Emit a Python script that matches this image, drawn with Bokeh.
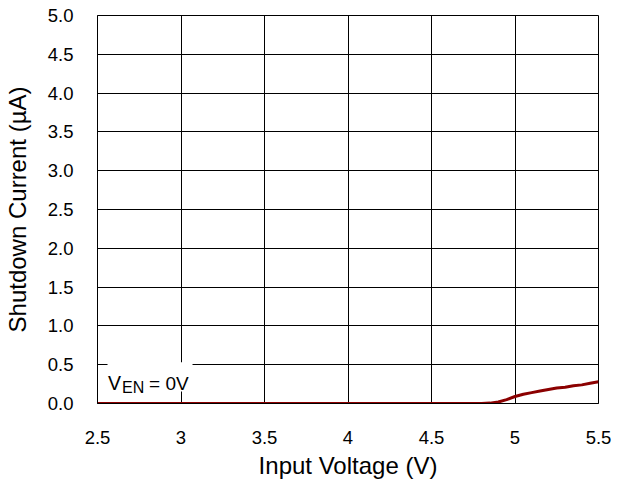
from bokeh.plotting import figure
from bokeh.models import Range1d, FixedTicker, Label, BoxAnnotation, CustomJSTickFormatter
from bokeh.embed import file_html
from bokeh.resources import INLINE

# Data
input_voltage = [2.5, 2.6, 2.7, 2.8, 2.9, 3.0, 3.1, 3.2, 3.3, 3.4, 3.5, 3.6, 3.7, 3.8, 3.9,
                 4.0, 4.1, 4.2, 4.3, 4.4, 4.5, 4.6, 4.7, 4.8, 4.85, 4.9, 4.95, 5.0, 5.05,
                 5.1, 5.15, 5.2, 5.25, 5.3, 5.35, 5.4, 5.45, 5.5]
shutdown_current = [0.0, 0.0, 0.0, 0.0, 0.0, 0.0, 0.0, 0.0, 0.0, 0.0, 0.0, 0.0, 0.0, 0.0, 0.0,
                    0.0, 0.0, 0.0, 0.0, 0.0, 0.0, 0.0, 0.0, 0.0, 0.005, 0.02, 0.05, 0.09, 0.12,
                    0.14, 0.16, 0.18, 0.2, 0.21, 0.23, 0.24, 0.26, 0.28]
x_ticks = [2.5, 3, 3.5, 4, 4.5, 5, 5.5]
y_ticks = [0.0, 0.5, 1.0, 1.5, 2.0, 2.5, 3.0, 3.5, 4.0, 4.5, 5.0]
x_title = "Input Voltage (V)"
y_title = "Shutdown Current (µA)"

FONT = "Liberation Sans"

p = figure(width=619, height=483, output_backend="svg", toolbar_location=None,
           x_range=Range1d(2.5, 5.5), y_range=Range1d(0, 5.0),
           min_border_left=97, min_border_right=21, min_border_top=15, min_border_bottom=80)

p.line(input_voltage, shutdown_current, line_color="#8B0000", line_width=3)

p.outline_line_color = "black"
p.outline_line_width = 1

for ax in (p.xaxis, p.yaxis):
    ax.axis_line_color = "black"
    ax.major_tick_line_color = None
    ax.minor_tick_line_color = None
    ax.major_tick_out = 0
    ax.major_tick_in = 0
    ax.major_label_text_font = FONT
    ax.major_label_text_font_size = "18.5px"
    ax.major_label_text_color = "black"
    ax.major_label_text_line_height = 1.0
    ax.axis_label_text_font = FONT
    ax.axis_label_text_font_size = "24px"
    ax.axis_label_text_font_style = "normal"
    ax.axis_label_text_color = "black"
    ax.axis_label_text_line_height = 1.0

p.xaxis.ticker = FixedTicker(ticks=x_ticks)
p.yaxis.ticker = FixedTicker(ticks=y_ticks)
p.yaxis.formatter = CustomJSTickFormatter(code="return tick.toFixed(1);")
p.xaxis.formatter = CustomJSTickFormatter(code="return String(tick);")
p.xaxis.axis_label = x_title
p.yaxis.axis_label = y_title
p.xaxis.major_label_standoff = 27
p.xaxis.axis_label_standoff = 5
p.yaxis.major_label_standoff = 24
p.yaxis.axis_label_standoff = 14

p.xgrid.ticker = FixedTicker(ticks=x_ticks)
p.ygrid.ticker = FixedTicker(ticks=y_ticks)
p.xgrid.grid_line_color = "black"
p.ygrid.grid_line_color = "black"
p.xgrid.grid_line_alpha = 1
p.ygrid.grid_line_alpha = 1

p.background_fill_color = "white"
p.border_fill_color = "white"

# Annotation box
p.add_layout(BoxAnnotation(left=2.56, right=3.069, bottom=0.155, top=0.53,
                           fill_color="white", fill_alpha=1, line_color=None))
p.add_layout(Label(x=2.563, y=0.258, text="V", text_font=FONT, text_font_size="19.5px",
                   text_color="black", text_baseline="alphabetic"))
p.add_layout(Label(x=2.563, y=0.258, x_offset=14, y_offset=-4, text="EN", text_font=FONT,
                   text_font_size="16px", text_color="black", text_baseline="alphabetic"))
p.add_layout(Label(x=2.563, y=0.258, x_offset=41, text="= 0V", text_font=FONT,
                   text_font_size="19px", text_color="black", text_baseline="alphabetic"))

open("out.html", "w").write(file_html(p, INLINE))
